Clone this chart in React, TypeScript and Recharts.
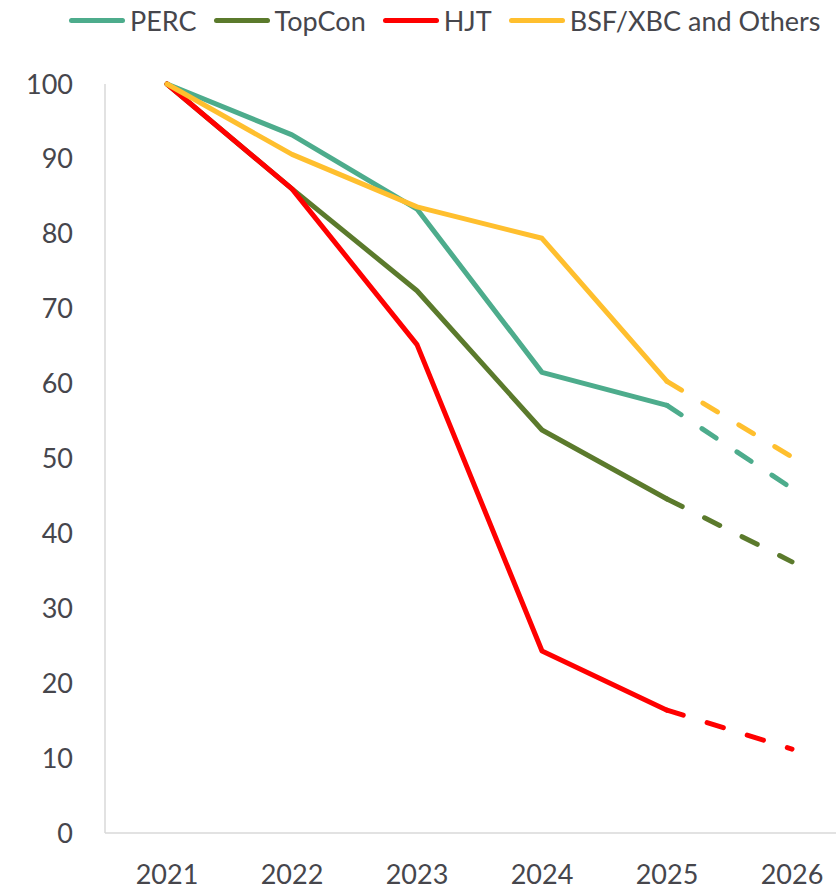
import { LineChart, Line, XAxis, YAxis } from 'recharts';

const years = ['2021', '2022', '2023', '2024', '2025', '2026'];
const perc = [100, 93.2, 83.3, 61.5, 57.1, 46];
const topcon = [100, 86, 72.4, 53.8, 44.6, 36.2];
const hjt = [100, 86, 65.2, 24.3, 16.4, 11.2];
const bsf = [100, 90.6, 83.6, 79.4, 60.3, 50.2];
const yTicks = [0, 10, 20, 30, 40, 50, 60, 70, 80, 90, 100];

// last year is a forecast: solid up to 2025, dashed 2025 -> 2026
const solidUntil = 4;

const series = [
  { key: 'perc', name: 'PERC', values: perc, color: '#4DAC8C' },
  { key: 'topcon', name: 'TopCon', values: topcon, color: '#5B7A2C' },
  { key: 'hjt', name: 'HJT', values: hjt, color: '#FF0000' },
  { key: 'bsf', name: 'BSF/XBC and Others', values: bsf, color: '#FFBF2E' },
];

const data = years.map((year, i) => {
  const row: Record<string, string | number | null> = { year };
  series.forEach((s) => {
    row[s.key] = i <= solidUntil ? s.values[i] : null;
    row[s.key + 'Fc'] = i >= solidUntil ? s.values[i] : null;
  });
  return row;
});

const FONT = 'Lato, "Open Sans", sans-serif';
const TEXT = '#46464c';

function ChartLegend() {
  return (
    <div
      style={{
        position: 'absolute',
        top: 4,
        left: 69,
        display: 'flex',
        alignItems: 'center',
        fontFamily: FONT,
        fontSize: 27,
        color: TEXT,
        whiteSpace: 'nowrap',
      }}
    >
      {series.map((s) => (
        <div key={s.key} style={{ display: 'flex', alignItems: 'center', marginRight: 17 }}>
          <span
            style={{
              display: 'inline-block',
              width: 56,
              height: 5,
              borderRadius: 3,
              background: s.color,
              marginRight: 5,
            }}
          />
          <span>{s.name}</span>
        </div>
      ))}
    </div>
  );
}

export default function App() {
  return (
    <div
      style={{
        position: 'absolute',
        left: 0,
        top: 0,
        width: 836,
        height: 889,
        overflow: 'hidden',
        background: '#fff',
      }}
    >
      <LineChart
        width={870}
        height={889}
        data={data}
        margin={{ top: 84, right: 16, left: 0, bottom: 26 }}
      >
        <XAxis
          dataKey="year"
          height={30}
          padding={{ left: 62, right: 62 }}
          tickLine={false}
          tickSize={0}
          tickMargin={32}
          axisLine={{ stroke: '#D9D9D9', strokeWidth: 1.5 }}
          tick={{ fontSize: 27, fill: TEXT, fontFamily: FONT }}
          interval={0}
        />
        <YAxis
          width={105}
          domain={[0, 100]}
          ticks={yTicks}
          tickLine={false}
          tickSize={0}
          tickMargin={32}
          axisLine={{ stroke: '#D9D9D9', strokeWidth: 1.5 }}
          tick={{ fontSize: 27, fill: TEXT, fontFamily: FONT }}
          interval={0}
        />
        {series.map((s) => (
          <Line
            key={s.key}
            type="linear"
            dataKey={s.key}
            name={s.name}
            stroke={s.color}
            strokeWidth={5}
            strokeLinecap="round"
            strokeLinejoin="round"
            dot={false}
            activeDot={false}
            isAnimationActive={false}
          />
        ))}
        {series.map((s) => (
          <Line
            key={s.key + 'Fc'}
            type="linear"
            dataKey={s.key + 'Fc'}
            stroke={s.color}
            strokeWidth={5}
            strokeDasharray="17 25"
            strokeLinecap="round"
            dot={false}
            activeDot={false}
            legendType="none"
            isAnimationActive={false}
          />
        ))}
      </LineChart>
      <ChartLegend />
    </div>
  );
}
